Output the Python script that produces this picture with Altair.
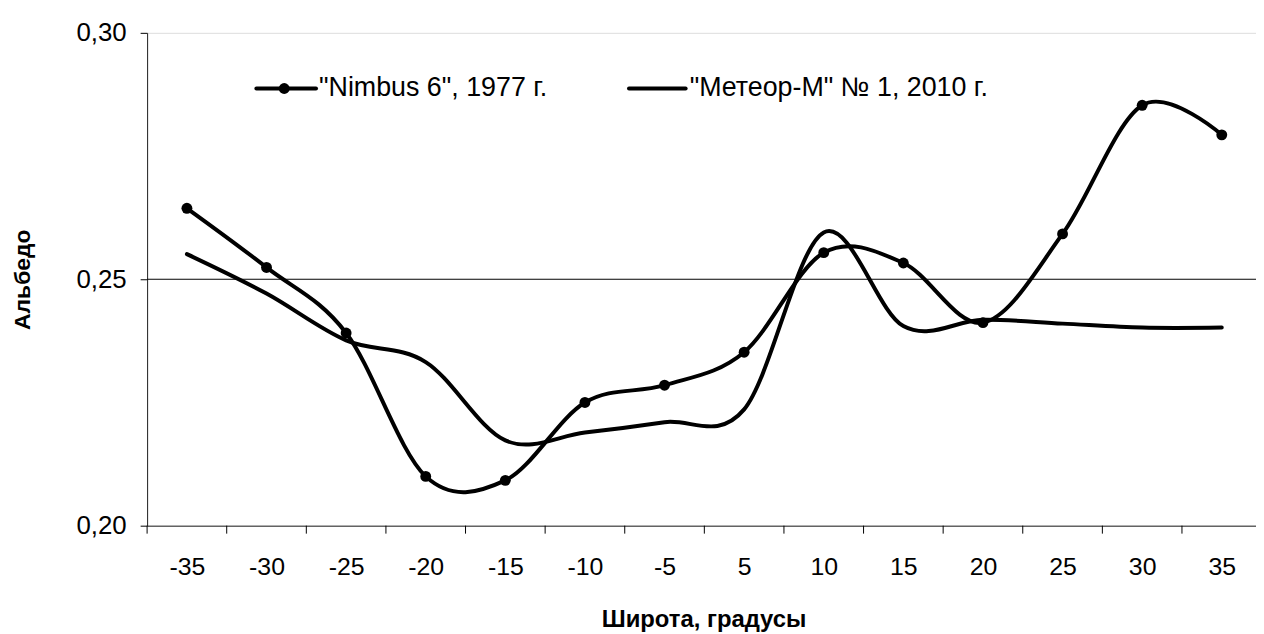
import altair as alt
import pandas as pd

# ---- data ----
latitudes = ["-35", "-30", "-25", "-20", "-15", "-10", "-5", "5", "10", "15", "20", "25", "30", "35"]
nimbus = [0.2644, 0.2524, 0.2391, 0.2100, 0.2092, 0.2250, 0.2285, 0.2352, 0.2554, 0.2533, 0.2412, 0.2592, 0.2853, 0.2793]
meteor = [0.2551, 0.2471, 0.2376, 0.2332, 0.2173, 0.2189, 0.2210, 0.2236, 0.2595, 0.2405, 0.2418, 0.2410, 0.2402, 0.2402]
series_names = ['"Nimbus 6", 1977 г.', '"Метеор-М" № 1, 2010 г.']
y_ticks = [0.20, 0.25, 0.30]
grid_values = [0.25]
x_title = "Широта, градусы"
y_title = "Альбедо"

FONT = "Liberation Sans"
W, H = 1116, 496

rows = []
for i, lab in enumerate(latitudes):
    rows.append({"idx": i, "lat": lab, "value": nimbus[i], "series": series_names[0]})
    rows.append({"idx": i, "lat": lab, "value": meteor[i], "series": series_names[1]})
df = pd.DataFrame(rows)
bounds = pd.DataFrame({"b": [i - 0.5 for i in range(len(latitudes))]})
grid_df = pd.DataFrame({"g": grid_values})

x_scale = alt.Scale(domain=[-0.5, 13.43], nice=False, zero=False)
y_scale = alt.Scale(domain=[0.2, 0.3], nice=False, zero=False)

label_expr = "[" + ",".join("'%s'" % l for l in latitudes) + "][datum.value]"

x_enc = alt.X(
    "idx:Q",
    scale=x_scale,
    axis=alt.Axis(
        values=list(range(len(latitudes))),
        labelExpr=label_expr,
        ticks=False,
        grid=False,
        domain=True,
        domainColor="#222222",
        domainWidth=1,
        labelFontSize=25,
        labelColor="black",
        labelFont=FONT,
        labelPadding=29,
        title=x_title,
        titleFont=FONT,
        titleFontSize=24,
        titleFontWeight="bold",
        titleColor="black",
        titleX=560,
        titleY=94,
        titleAlign="center",
        titleBaseline="middle",
    ),
)
y_enc = alt.Y(
    "value:Q",
    scale=y_scale,
    axis=alt.Axis(
        values=y_ticks,
        labelExpr="replace(format(datum.value, '.2f'), '.', ',')",
        tickSize=7,
        tickColor="black",
        labelPadding=14,
        grid=False,
        domainColor="#222222",
        domainWidth=1,
        labelFontSize=26,
        labelColor="black",
        labelFont=FONT,
        title=y_title,
        titleFont=FONT,
        titleFontSize=23,
        titleFontWeight="bold",
        titleColor="black",
        titleAngle=270,
        titleX=-125,
        titleY=248,
        titleAlign="center",
        titleBaseline="middle",
    ),
)

grid = alt.Chart(grid_df).mark_rule(color="black", strokeWidth=1).encode(
    y=alt.Y("g:Q", scale=y_scale)
)

ticks = alt.Chart(bounds).mark_rule(color="black", strokeWidth=1).encode(
    x=alt.X("b:Q", scale=x_scale),
    y=alt.value(H),
    y2=alt.value(H + 8),
)

lines = alt.Chart(df).mark_line(
    interpolate="cardinal", color="black", strokeWidth=4, strokeCap="round", strokeJoin="round"
).encode(x=x_enc, y=y_enc, detail="series:N", order="idx:Q")

points = alt.Chart(df).transform_filter(
    alt.datum.series == series_names[0]
).mark_circle(color="black", size=120, opacity=1).encode(
    x=alt.X("idx:Q", scale=x_scale), y=alt.Y("value:Q", scale=y_scale)
)

one = pd.DataFrame({"k": [0]})
leg1_line = alt.Chart(one).mark_rule(color="black", strokeWidth=4, strokeCap="round").encode(
    x=alt.value(110), x2=alt.value(170), y=alt.value(56)
)
leg1_dot = alt.Chart(one).mark_circle(color="black", size=120, opacity=1).encode(
    x=alt.value(138), y=alt.value(56)
)
leg1_text = alt.Chart(one).mark_text(
    align="left", baseline="middle", fontSize=27, font=FONT, color="black"
).encode(x=alt.value(173), y=alt.value(56), text=alt.value(series_names[0]))
leg2_line = alt.Chart(one).mark_rule(color="black", strokeWidth=4, strokeCap="round").encode(
    x=alt.value(485), x2=alt.value(542), y=alt.value(56)
)
leg2_text = alt.Chart(one).mark_text(
    align="left", baseline="middle", fontSize=27, font=FONT, color="black"
).encode(x=alt.value(546), y=alt.value(56), text=alt.value(series_names[1]))

chart = alt.layer(
    grid, ticks, lines, points, leg1_line, leg1_dot, leg1_text, leg2_line, leg2_text
).properties(
    width=W,
    height=H,
    autosize=alt.AutoSizeParams(type="none"),
    padding={"left": 140, "top": 23, "right": 0, "bottom": 105},
).configure_view(stroke=None).configure(font=FONT)

chart.save("out.html", embed_options={"renderer": "svg", "actions": False})
